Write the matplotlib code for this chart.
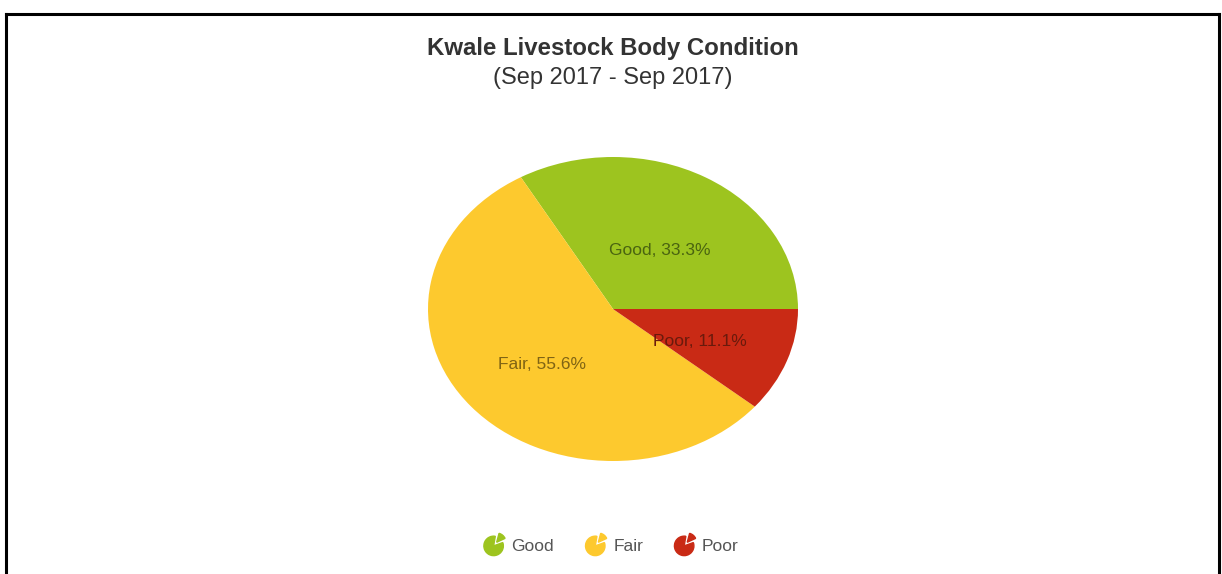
import matplotlib
matplotlib.use('Agg')
import matplotlib.pyplot as plt
from matplotlib.patches import Wedge
from matplotlib.lines import Line2D

plt.rcParams['font.family'] = ['Liberation Sans', 'DejaVu Sans']

categories = ['Good', 'Fair', 'Poor']
shares = [33.3, 55.6, 11.1]
slice_colors = ['#9dc41f', '#fdc92e', '#c92a15']
text_colors = ['#4a6410', '#806414', '#6a1a0c']

title = 'Kwale Livestock Body Condition'
subtitle = '(Sep 2017 - Sep 2017)'


class PieIcon:
    # little pie glyph with one slice pulled out, used as legend marker
    def legend_artist(self, legend, orig_handle, fontsize, handlebox):
        x0, y0 = handlebox.xdescent, handlebox.ydescent
        w, h = handlebox.width, handlebox.height
        cx, cy = x0 + w / 2, y0 + h / 2 - 1
        r = 7
        color = orig_handle.get_color()
        body = Wedge((cx, cy), r, 80, 380, color=color,
                     transform=handlebox.get_transform())
        piece = Wedge((cx + 2.2, cy + 2.6), r * 0.95, 25, 75, color=color,
                      transform=handlebox.get_transform())
        handlebox.add_artist(body)
        handlebox.add_artist(piece)
        return body


fig = plt.figure(figsize=(12.22, 5.74), dpi=100)

# frame around the chart (open at the bottom)
top = 1 - 14 / 574
left, right = 6 / 1222, 1219 / 1222
for xs, ys in [([left, left], [0, top]), ([left, right], [top, top]), ([right, right], [0, top])]:
    fig.add_artist(Line2D(xs, ys, color='black', lw=2.2, transform=fig.transFigure))

fig.text(0.5016, 1 - 49 / 574, title, ha='center', va='center', fontsize=17.3,
         fontweight='bold', color='#333333')
fig.text(0.5016, 1 - 78 / 574, subtitle, ha='center', va='center', fontsize=17,
         color='#333333')

ax = fig.add_axes([428 / 1222, 113 / 574, 370 / 1222, 304 / 574])
labels = [f'{c}, {s}%' for c, s in zip(categories, shares)]
wedges, texts = ax.pie(shares, colors=slice_colors, startangle=0, counterclock=True,
                       labels=labels, labeldistance=0.5,
                       wedgeprops=dict(linewidth=0))
for t, c in zip(texts, text_colors):
    x, y = t.get_position()
    t.set_position((x, y - 0.045))
    t.set_ha('center')
    t.set_va('center')
    t.set_fontsize(12.5)
    t.set_color(c)
ax.set_aspect('auto')
ax.set_xlim(-1, 1)
ax.set_ylim(-1, 1)
ax.axis('off')

handles = [Line2D([], [], color=c) for c in slice_colors]
fig.legend(handles, categories, loc='center', bbox_to_anchor=(0.5, 28 / 574),
           ncol=3, frameon=False, fontsize=12.5, labelcolor='#555555',
           handler_map={h: PieIcon() for h in handles},
           handlelength=1.2, handletextpad=0.43, columnspacing=1.77)

fig.savefig('out.png', dpi=100, facecolor='white')
